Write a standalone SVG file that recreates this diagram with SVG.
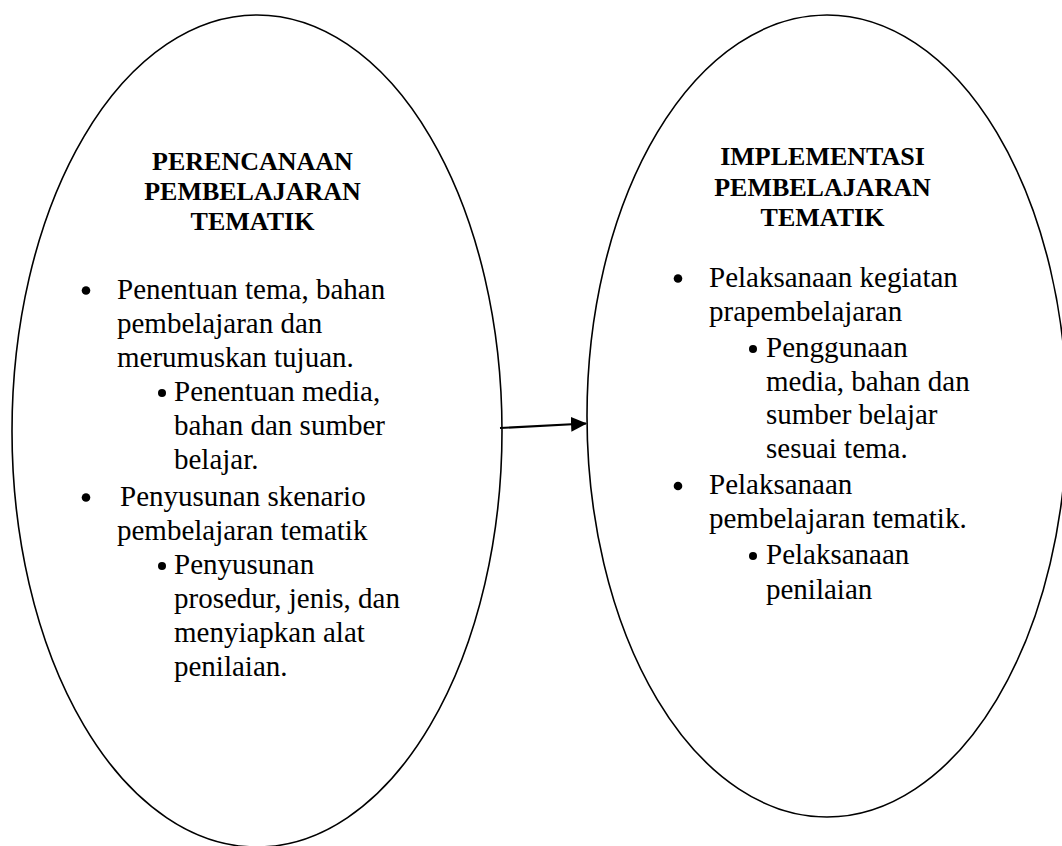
<svg xmlns="http://www.w3.org/2000/svg" width="1062" height="846" viewBox="0 0 1062 846">
<defs>
<style>
.shape{fill:#fff;stroke:#000;stroke-width:1.6}
.title{font-family:"Liberation Serif","Times New Roman",serif;font-weight:bold;font-size:26px;fill:#000;text-anchor:middle}
.body{font-family:"Liberation Serif","Times New Roman",serif;font-size:29px;fill:#000}
.conn{stroke:#000;stroke-width:2.2;fill:none}
</style>
<marker id="arrow" markerWidth="16" markerHeight="16" refX="15" refY="7.5" orient="auto" markerUnits="userSpaceOnUse">
<path d="M0,0 L16,7.5 L0,15 Z" fill="#000"/>
</marker>
</defs>
<rect width="1062" height="846" fill="#fff"/>
<g id="node-perencanaan">
<ellipse class="shape" cx="257" cy="431" rx="245" ry="416"/>
<text class="title" x="252.5" y="170">PERENCANAAN</text>
<text class="title" x="252.5" y="200">PEMBELAJARAN</text>
<text class="title" x="252.5" y="230">TEMATIK</text>
<circle cx="86" cy="290.5" r="4.3"/>
<text class="body" x="117" y="299">Penentuan tema, bahan</text>
<text class="body" x="117" y="333">pembelajaran dan</text>
<text class="body" x="117" y="367">merumuskan tujuan.</text>
<circle cx="162" cy="393" r="4"/>
<text class="body" x="174" y="401">Penentuan media,</text>
<text class="body" x="174" y="435">bahan dan sumber</text>
<text class="body" x="174" y="469">belajar.</text>
<circle cx="86" cy="497.5" r="4.3"/>
<text class="body" x="120" y="506">Penyusunan skenario</text>
<text class="body" x="117" y="540">pembelajaran tematik</text>
<circle cx="162" cy="566" r="4"/>
<text class="body" x="174" y="574">Penyusunan</text>
<text class="body" x="174" y="608">prosedur, jenis, dan</text>
<text class="body" x="174" y="642">menyiapkan alat</text>
<text class="body" x="174" y="676">penilaian.</text>
</g>
<g id="node-implementasi">
<ellipse class="shape" cx="827" cy="416" rx="240" ry="401"/>
<text class="title" x="822.5" y="165">IMPLEMENTASI</text>
<text class="title" x="822.5" y="196">PEMBELAJARAN</text>
<text class="title" x="822.5" y="226">TEMATIK</text>
<circle cx="678" cy="278.5" r="4.3"/>
<text class="body" x="709" y="287">Pelaksanaan kegiatan</text>
<text class="body" x="709" y="321">prapembelajaran</text>
<circle cx="753" cy="349" r="4"/>
<text class="body" x="766" y="357">Penggunaan</text>
<text class="body" x="766" y="391">media, bahan dan</text>
<text class="body" x="766" y="424">sumber belajar</text>
<text class="body" x="766" y="458">sesuai tema.</text>
<circle cx="678" cy="486" r="4.3"/>
<text class="body" x="709" y="494">Pelaksanaan</text>
<text class="body" x="709" y="528">pembelajaran tematik.</text>
<circle cx="753" cy="556" r="4"/>
<text class="body" x="766" y="564">Pelaksanaan</text>
<text class="body" x="766" y="599">penilaian</text>
</g>
<g id="connectors">
<line class="conn" x1="500" y1="428" x2="586" y2="423.5" marker-end="url(#arrow)"/>
</g>
</svg>
